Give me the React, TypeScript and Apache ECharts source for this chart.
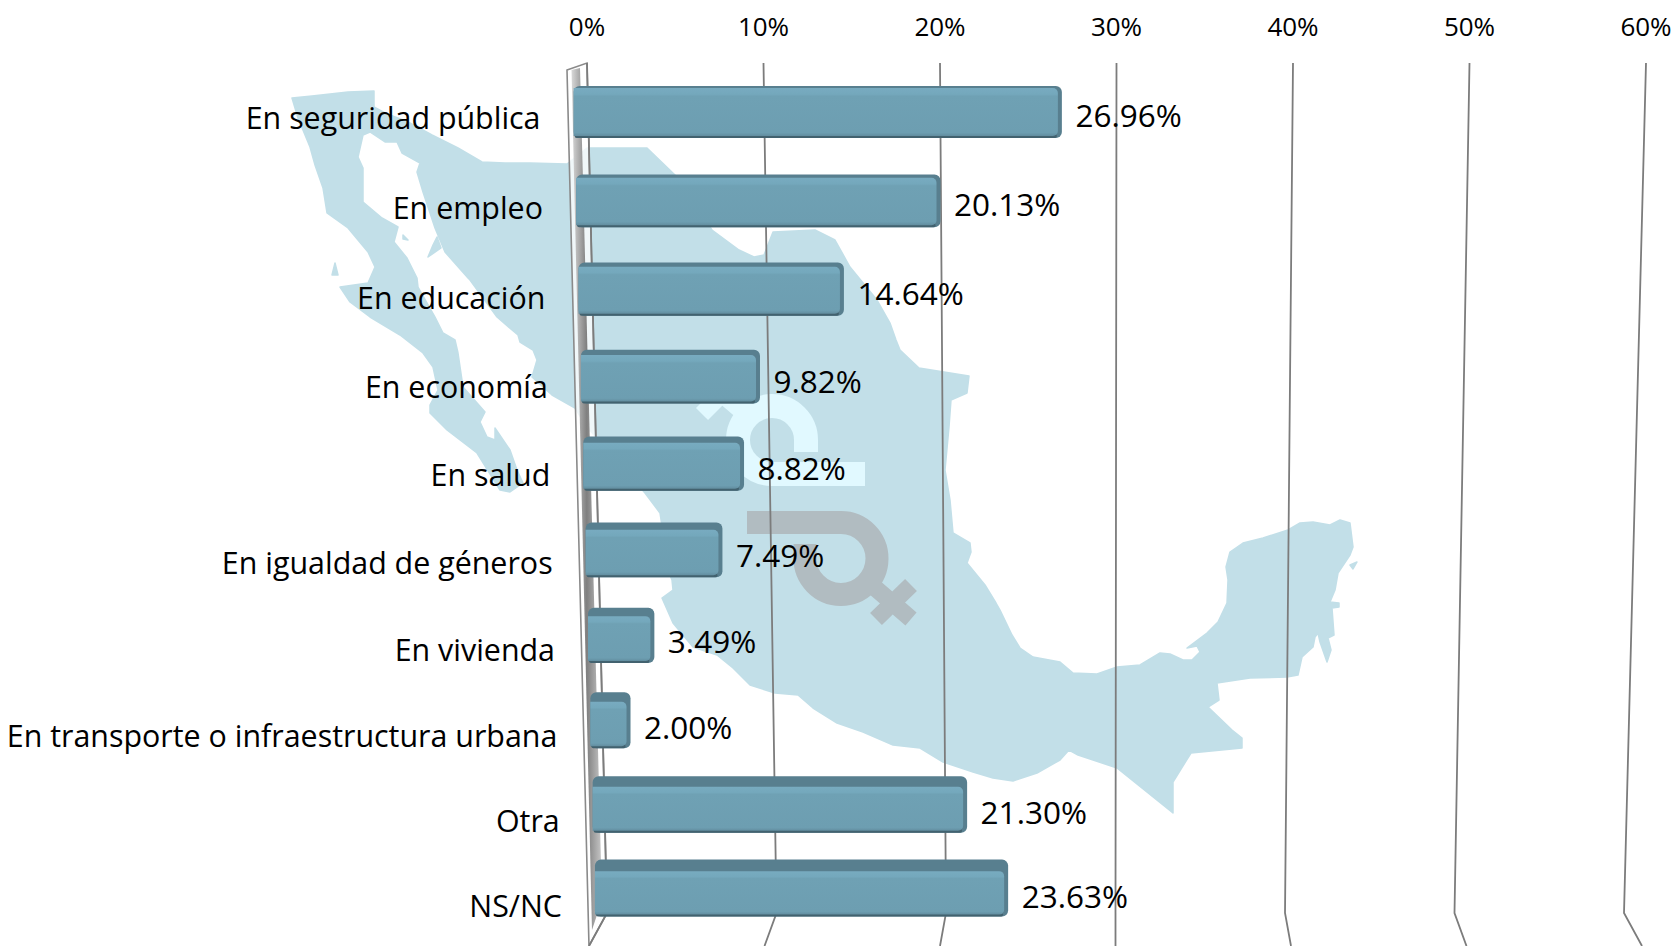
import React, { useEffect, useRef } from "react";
import * as echarts from "echarts";

const categories = [
  "En seguridad pública",
  "En empleo",
  "En educación",
  "En economía",
  "En salud",
  "En igualdad de géneros",
  "En vivienda",
  "En transporte o infraestructura urbana",
  "Otra",
  "NS/NC",
];
const values = [26.96, 20.13, 14.64, 9.82, 8.82, 7.49, 3.49, 2.0, 21.3, 23.63];
const gridValues = [0, 10, 20, 30, 40, 50, 60];

const FONT = "'Open Sans'";
const MEXICO_POINTS =
  "292,98 312,96 348,92 374,91 374,107 385,113 408,122 432,135 458,148 482,162 505,163 530,163 567,164 587,148 647,148 675,175 712,230 739,250 754,257 764,255 773,232 815,230 835,240 850,267 877,300 890,323 896,340 900,350 919,368 969,376 967,393 951,400 949,427 945,470 950,500 953,533 970,543 971,552 967,563 985,585 996,603 1000,610 1012,635 1020,648 1033,657 1060,662 1073,673 1097,674 1117,667 1140,665 1160,653 1170,654 1183,660 1192,660 1200,652 1197,646 1187,648 1207,633 1218,622 1227,603 1228,580 1226,567 1230,552 1243,543 1263,538 1288,530 1300,523 1313,522 1330,525 1340,520 1350,523 1353,547 1350,555 1338,573 1335,590 1330,602 1339,603 1339,607 1332,608 1334,635 1328,638 1331,650 1327,662 1320,642 1318,633 1315,637 1313,647 1302,657 1298,675 1287,677 1250,678 1217,683 1219,700 1208,707 1232,730 1242,738 1242,748 1191,753 1173,782 1173,813 1117,768 1078,755 1069,750 1060,760 1037,773 1013,781 993,778 973,772 943,762 920,748 893,745 863,732 837,723 813,708 798,695 775,693 750,685 733,668 717,655 693,647 673,623 662,598 673,590 672,580 669,573 660,513 645,493 587,427 575,408 552,395 532,377 537,360 533,350 520,342 518,335 497,317 470,280 468,278 445,252 435,228 423,192 417,172 420,163 402,153 397,142 385,142 370,132 363,135 358,157 363,168 363,202 382,218 398,227 394,242 407,258 417,278 418,287 435,317 443,333 455,340 458,353 463,387 485,412 480,422 487,437 495,440 495,428 510,450 517,470 523,483 510,492 500,490 477,453 447,430 430,413 430,405 438,390 433,367 423,353 400,335 370,317 350,302 340,287 368,283 375,267 368,252 348,228 327,213 323,188 315,165 310,147 298,118";
const MEXICO_ISLANDS = [
  "437,237 441,248 428,257 433,245",
  "403,235 408,240 403,239",
  "335,263 338,275 332,275",
  "1350,565 1357,562 1353,569",
];
const toPath = (pts: string) => "M" + pts.trim().split(" ").join(" L") + " Z";
const MEXICO = [MEXICO_POINTS, ...MEXICO_ISLANDS].map(toPath).join(" ");
const GRAY_SIGN = "M747,522.5 L841,522.5 A36,36 0 1 1 805,558 L805,544";
const GRAY_CROSS = "M866,580 L911,619 M911,585 L876,619";
const LIGHT_SIGN = "M865,474 L772,474 A34,34 0 1 1 806,440 L806,452";
const LIGHT_CROSS = "M751,419 L703,378 M702,414 L738,378";

function shapeOf(d: string, name: string) {
  echarts.graphic.registerShape(name, echarts.graphic.extendPath(d, {}) as any);
}
shapeOf(MEXICO, "mexico");
shapeOf(GRAY_SIGN, "graysign");
shapeOf(GRAY_CROSS, "graycross");
shapeOf(LIGHT_SIGN, "lightsign");
shapeOf(LIGHT_CROSS, "lightcross");

const warpY = (py: number) => {
  const u = (py - 105.5) / 85;
  return 112 + 89.233 * u - 0.333 * u * u;
};
const frac = (y: number) => (y - 112) / 776;
const wallLeft = (y: number) => 567 + (y - 70) * 0.0274;

function renderBar(_: any, api: any) {
  const v = api.value(0);
  const [px, py] = api.coord([v, api.value(1)]);
  const yc = warpY(py);
  const f = frac(yc);
  const k = (1 - 0.0397 * ((yc - 63) / 850)) * 1.017;
  const L = wallLeft(yc) + 5.5;
  const R = L + (px - 587) * k + 5.4;
  const h = 52 + 5 * f;
  const T = yc - h / 2;
  const topFace = 2 + 9.5 * f;
  const faceGrad = new echarts.graphic.LinearGradient(0, 0, 0, 1, [
    { offset: 0, color: "#78abc0" },
    { offset: 0.13, color: "#74a8bc" },
    { offset: 0.17, color: "#6fa1b4" },
    { offset: 0.93, color: "#6d9eb1" },
    { offset: 1, color: "#628d9f" },
  ]);
  return {
    type: "group",
    children: [
      {
        type: "rect",
        shape: { x: L, y: T, width: R - L, height: h, r: 6 },
        style: { fill: "#587f8f" },
      },
      {
        type: "rect",
        shape: { x: L + 1, y: T + h - 4, width: R - L - 6, height: 4, r: 2 },
        style: { fill: "#42626f" },
      },
      {
        type: "rect",
        shape: { x: L, y: T + topFace, width: R - L - 4, height: h - topFace - 2, r: [0, 5, 5, 0] },
        style: { fill: faceGrad },
      },
    ],
  };
}

function renderValueLabel(_: any, api: any) {
  const v = api.value(0);
  const [px, py] = api.coord([v, api.value(1)]);
  const yc = warpY(py);
  const f = frac(yc);
  const k = (1 - 0.0397 * ((yc - 63) / 850)) * 1.017;
  const R = wallLeft(yc) + 5.5 + (px - 587) * k + 5.4;
  return {
    type: "text",
    z2: 5,
    style: {
      text: v.toFixed(2) + "%",
      x: R + 13.5,
      y: yc + 2 + 5 * f,
      fontFamily: FONT,
      fontSize: 31.5,
      fill: "#000",
      align: "left",
      verticalAlign: "middle",
    },
  };
}

function renderCategoryLabel(params: any, api: any) {
  const [, py] = api.coord([0, api.value(0)]);
  const yc = warpY(py);
  const f = frac(yc);
  return {
    type: "text",
    z2: 5,
    style: {
      text: categories[params.dataIndex],
      x: 540.5 + 21.5 * f,
      y: yc + 5.5 + 12 * f,
      fontFamily: FONT,
      fontSize: 30.4,
      fill: "#000",
      align: "right",
      verticalAlign: "middle",
    },
  };
}

function renderGridLine(params: any, api: any) {
  const v = api.value(0);
  const [x0] = api.coord([v, 0]);
  const topY = params.coordSys.y;
  const botY = topY + params.coordSys.height;
  const x1 = 607 + (x0 - 587) * (169.5 / 176.5);
  const x2 = x1 + (v - 30) * 0.6;
  const lineStyle = { stroke: "#7c7c7c", lineWidth: 1.8, fill: "none" };
  const children: any[] = [
    {
      type: "polyline",
      shape: { points: [[x0, topY], [x1, botY], [x2, 946]] },
      style: lineStyle,
    },
  ];
  if (v === 0) {
    children.unshift(
      {
        type: "polygon",
        shape: { points: [[567, 70], [x0, topY], [x1, botY], [x2, 946]] },
        style: { fill: "rgba(255,255,255,0.75)", stroke: "#8a8a8a", lineWidth: 1.6 },
      },
      {
        type: "polygon",
        shape: { points: [[571.5, 70], [580, 68], [x2 + 13, 900], [x2 + 3, 930]] },
        style: {
          fill: new echarts.graphic.LinearGradient(0, 0, 1, 0, [
            { offset: 0, color: "#d8d8d8" },
            { offset: 0.5, color: "#7f7f7f" },
            { offset: 1, color: "#c8c8c8" },
          ]),
        },
      }
    );
  }
  return { type: "group", children };
}

export default function App() {
  const ref = useRef<HTMLDivElement>(null);
  useEffect(() => {
    const chart = echarts.init(ref.current!, undefined, { renderer: "svg" });
    chart.setOption({
      animation: false,
      backgroundColor: "#ffffff",
      textStyle: { fontFamily: FONT },
      grid: { left: 587, top: 63, width: 1059, height: 850, containLabel: false },
      xAxis: {
        type: "value",
        position: "top",
        min: 0,
        max: 60,
        interval: 10,
        axisLine: { show: false },
        axisTick: { show: false },
        splitLine: { show: false },
        axisLabel: {
          formatter: "{value}%",
          fontFamily: FONT,
          fontSize: 26,
          color: "#000",
          margin: 24,
        },
      },
      yAxis: {
        type: "category",
        inverse: true,
        data: categories,
        axisLine: { show: false },
        axisTick: { show: false },
        axisLabel: { show: false },
        splitLine: { show: false },
      },
      graphic: {
        elements: [
          { type: "mexico", x: 0, y: 0, z: 0, silent: true, style: { fill: "#c2dfe8", stroke: "#c2dfe8", lineWidth: 1.5, lineJoin: "round" } },
          { type: "lightsign", x: 0, y: 0, z: 0, silent: true, style: { fill: "none", stroke: "#e1f9ff", lineWidth: 24 } },
          { type: "lightcross", x: 0, y: 0, z: 0, silent: true, style: { fill: "none", stroke: "#e1f9ff", lineWidth: 17 } },
          { type: "graysign", x: 0, y: 0, z: 0, silent: true, style: { fill: "none", stroke: "#b1bcc1", lineWidth: 23 } },
          { type: "graycross", x: 0, y: 0, z: 0, silent: true, style: { fill: "none", stroke: "#b1bcc1", lineWidth: 17 } },
        ],
      },
      series: [
        {
          type: "custom",
          name: "grid",
          z: 1,
          silent: true,
          data: gridValues.map((g) => [g]),
          encode: { x: 0 },
          renderItem: renderGridLine,
        },
        {
          type: "custom",
          name: "bars",
          z: 3,
          silent: true,
          data: values.map((v, i) => [v, i]),
          encode: { x: 0, y: 1 },
          renderItem: renderBar,
        },
        {
          type: "custom",
          name: "valueLabels",
          z: 4,
          silent: true,
          data: values.map((v, i) => [v, i]),
          encode: { x: 0, y: 1 },
          renderItem: renderValueLabel,
        },
        {
          type: "custom",
          name: "categoryLabels",
          z: 4,
          silent: true,
          data: categories.map((_, i) => [i]),
          encode: { y: 0 },
          renderItem: renderCategoryLabel,
        },
      ],
    });
    return () => chart.dispose();
  }, []);
  return <div ref={ref} style={{ position: "absolute", left: 0, top: 0, width: 1675, height: 946 }} />;
}
